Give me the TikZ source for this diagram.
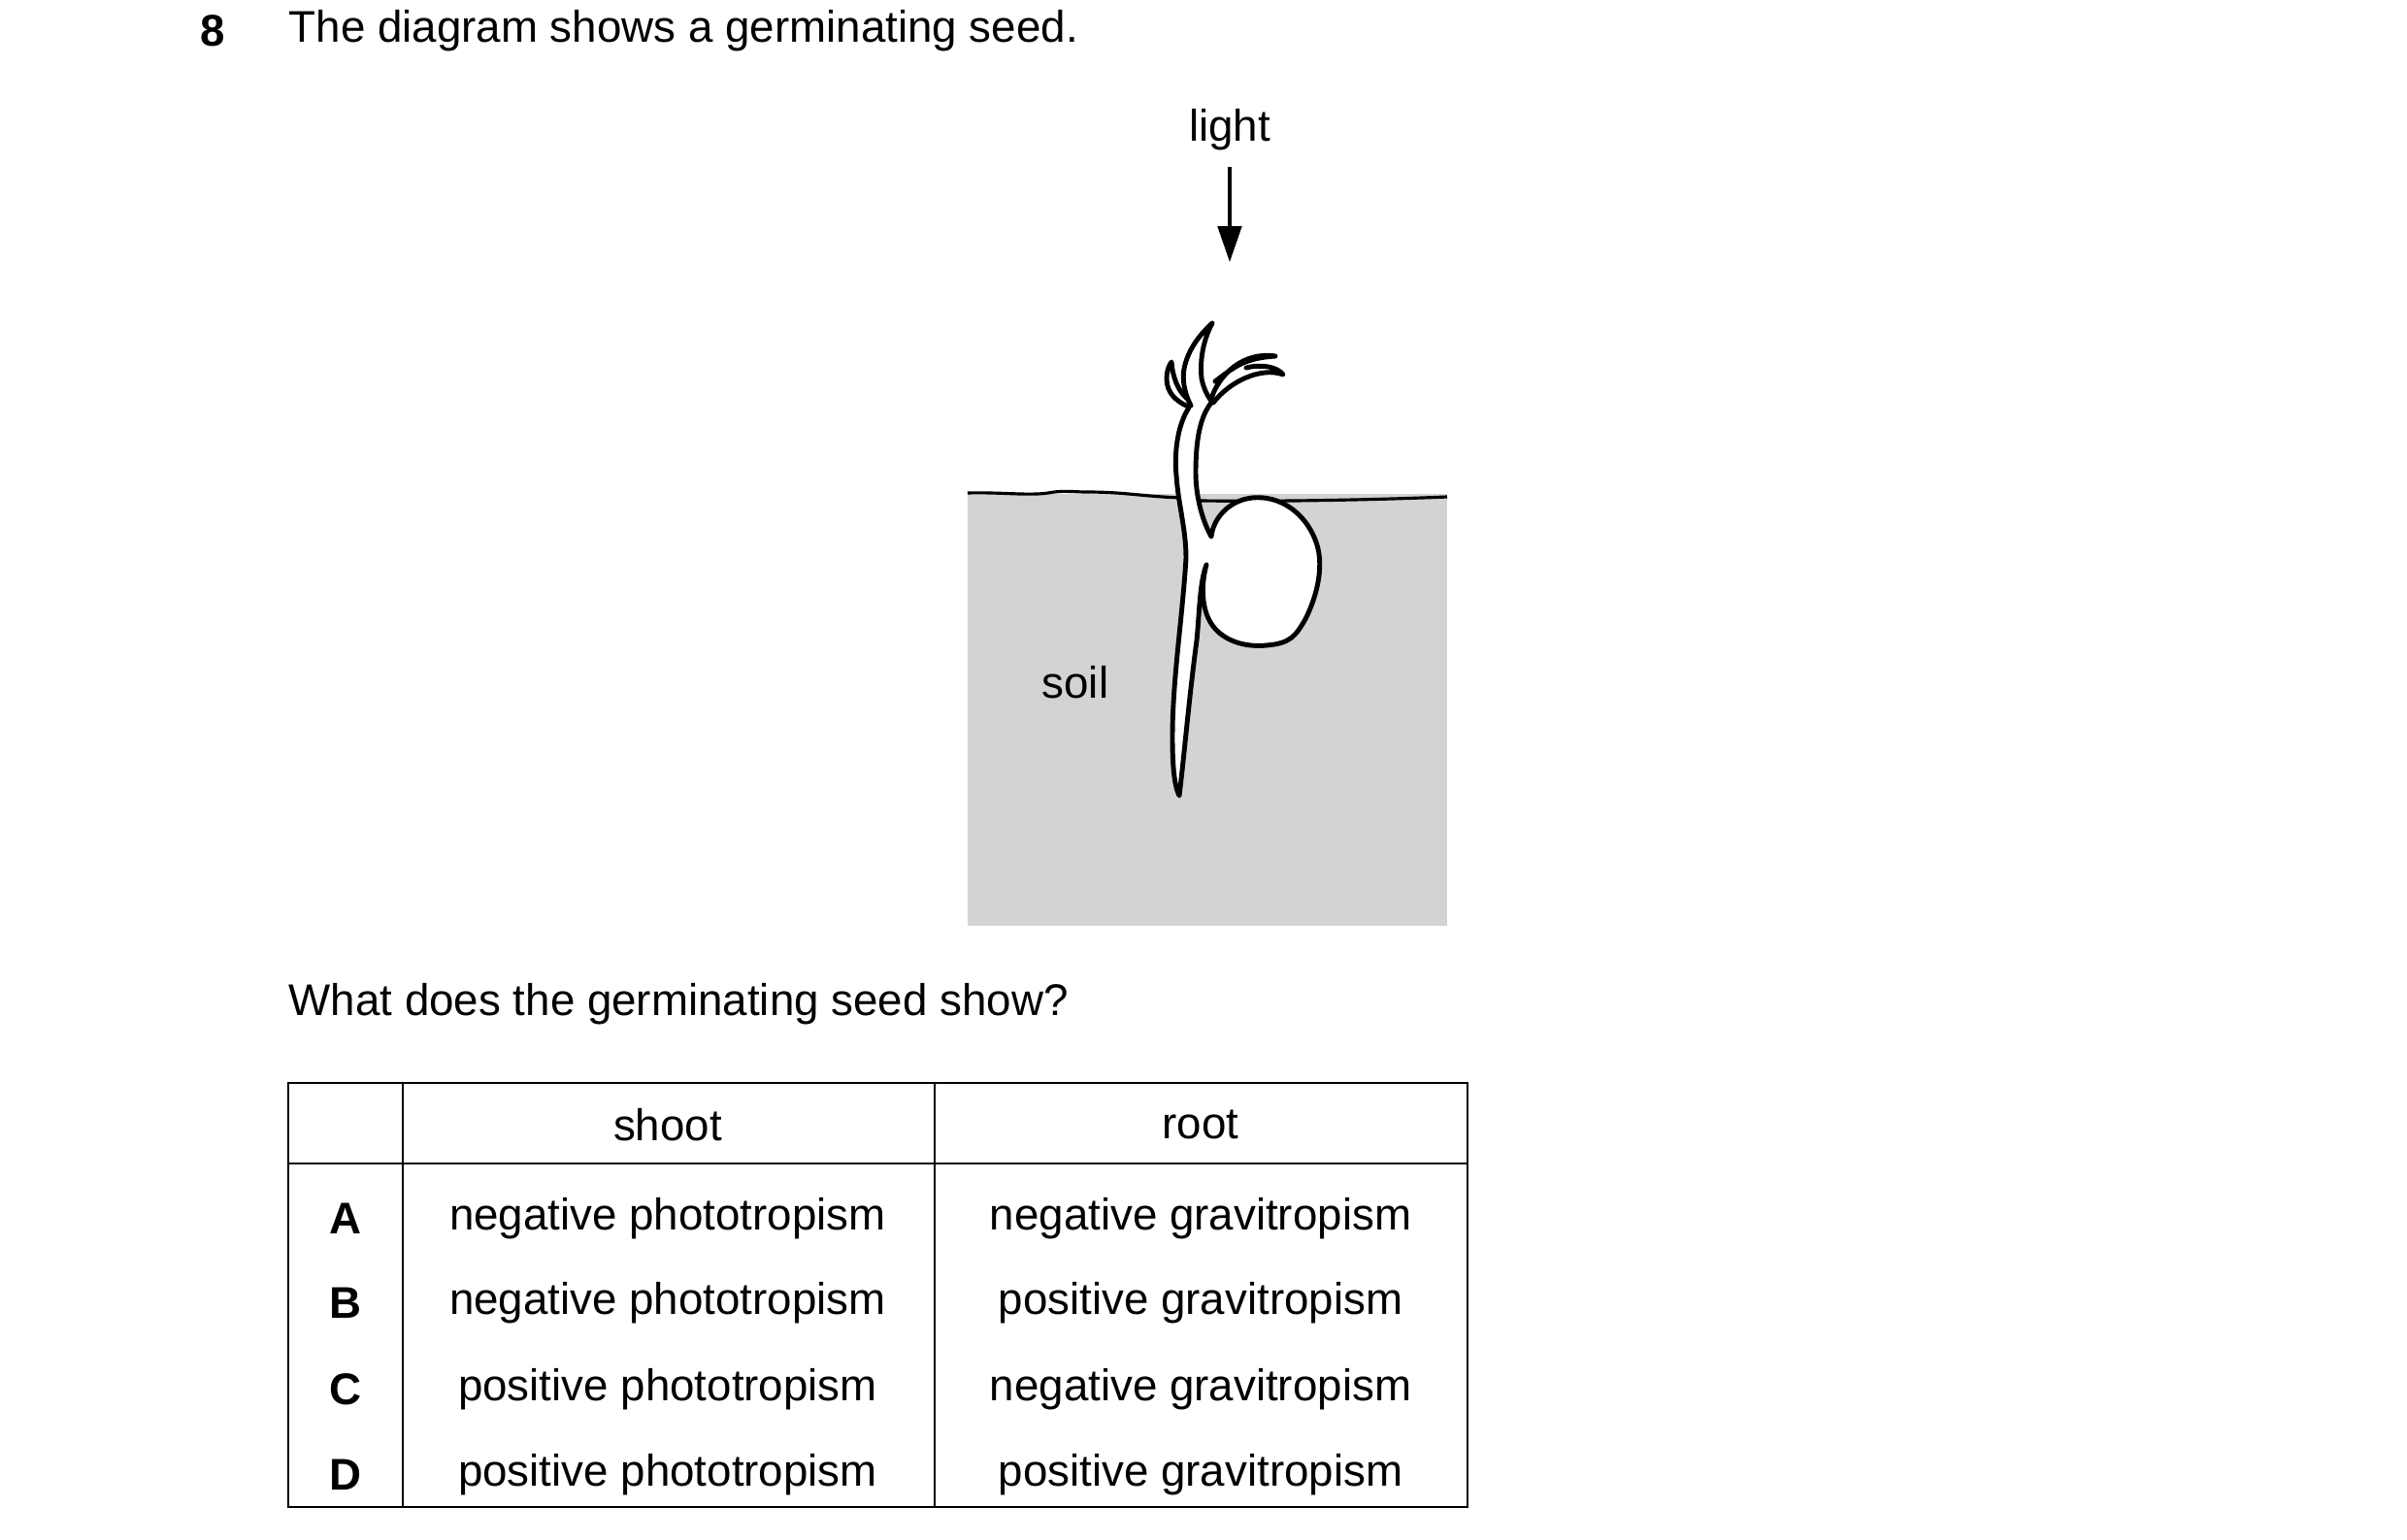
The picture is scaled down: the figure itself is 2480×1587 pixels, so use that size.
\documentclass[tikz,border=0pt]{standalone}
\usepackage{fontspec}
\setmainfont{Liberation Sans}
\usetikzlibrary{arrows.meta}
\begin{document}
\begin{tikzpicture}[x=0.01cm,y=-0.01cm,
  txt/.style={inner sep=0pt,font=\fontsize{13}{15}\selectfont},
  outl/.style={line width=1.4pt,line join=round,line cap=round},
  tab/.style={line width=0.7pt}]
\useasboundingbox (0,0) rectangle (2480,1587);
% header
\node[txt,font=\fontsize{13}{15}\selectfont\bfseries] (num) at (219,32) {8};
\node[txt,anchor=west] (title) at (297,32) {The diagram shows a germinating seed.};
% soil
\fill[fill={rgb,255:red,209;green,211;blue,212}] (997,509) rectangle (1491,954);
\draw[line width=0.9pt] (997,508) .. controls (1030,507) and (1060,511) .. (1080,508) .. controls (1095,505) and (1105,507) .. (1120,507) .. controls (1160,507) and (1180,512) .. (1220,513);
\draw[line width=0.9pt] (1237,516) .. controls (1320,517) and (1420,515) .. (1491,512);
\node[txt] (soil) at (1108,703) {soil};
% light
\node[txt] (light) at (1267,134) {light};
\coordinate (lt) at (1267,172);
\coordinate (lb) at (1267,270);
\draw[line width=0.9pt,-{Triangle[length=14pt*0.75,width=7pt]}] (lt) -- (lb);
% seedling
\draw[outl,fill=white] (1225,420) .. controls (1212,440) and (1210,470) .. (1212,490)
  .. controls (1214,520) and (1222,545) .. (1222,575)
  .. controls (1218,640) and (1208,700) .. (1208,760)
  .. controls (1208,790) and (1210,810) .. (1215,820)
  .. controls (1220,780) and (1225,720) .. (1233,660)
  .. controls (1236,630) and (1236,600) .. (1243,582)
  .. controls (1238,600) and (1236,630) .. (1252,648)
  .. controls (1265,662) and (1285,667) .. (1305,665)
  .. controls (1330,663) and (1335,655) .. (1345,638)
  .. controls (1358,612) and (1365,580) .. (1355,556)
  .. controls (1345,530) and (1320,510) .. (1290,513)
  .. controls (1265,516) and (1250,535) .. (1248,553)
  .. controls (1238,535) and (1232,510) .. (1232,487)
  .. controls (1232,455) and (1236,430) .. (1248,415);
% leaves
\draw[outl,fill=white] (1222,418) .. controls (1212,413) and (1202,405) .. (1202,390) .. controls (1202,383) and (1204,377) .. (1207,373) .. controls (1208,388) and (1214,405) .. (1226,413);
\draw[outl,fill=white] (1227,418) .. controls (1220,405) and (1218,390) .. (1220,380) .. controls (1224,360) and (1236,345) .. (1249,333) .. controls (1240,350) and (1236,370) .. (1238,390) .. controls (1240,400) and (1244,408) .. (1248,413);
\draw[outl,fill=white] (1248,411) .. controls (1256,385) and (1282,362) .. (1314,367) .. controls (1300,368) and (1285,370) .. (1270,380) .. controls (1262,385) and (1256,390) .. (1252,393);
\draw[outl,fill=white] (1250,415) .. controls (1268,392) and (1300,378) .. (1322,386) .. controls (1316,378) and (1300,375) .. (1284,379);
% question
\node[txt,anchor=west] (q) at (297,1035) {What does the germinating seed show?};
% table
\draw[tab] (297,1116) rectangle (1512,1553);
\draw[tab] (297,1199) -- (1512,1199);
\draw[tab] (415,1116) -- (415,1553);
\draw[tab] (963,1116) -- (963,1553);
\node[txt] (hs) at (688,1159) {shoot};
\node[txt] (hr) at (1237,1159) {root};
\foreach \l/\s/\r/\y in {A/negative phototropism/negative gravitropism/1256,
  B/negative phototropism/positive gravitropism/1343,
  C/positive phototropism/negative gravitropism/1432,
  D/positive phototropism/positive gravitropism/1520}{
  \node[txt,font=\fontsize{13}{15}\selectfont\bfseries] (l\l) at (356,\y) {\l};
  \node[txt] (s\l) at (688,\y) {\s};
  \node[txt] (r\l) at (1237,\y) {\r};
}
\end{tikzpicture}
\end{document}
